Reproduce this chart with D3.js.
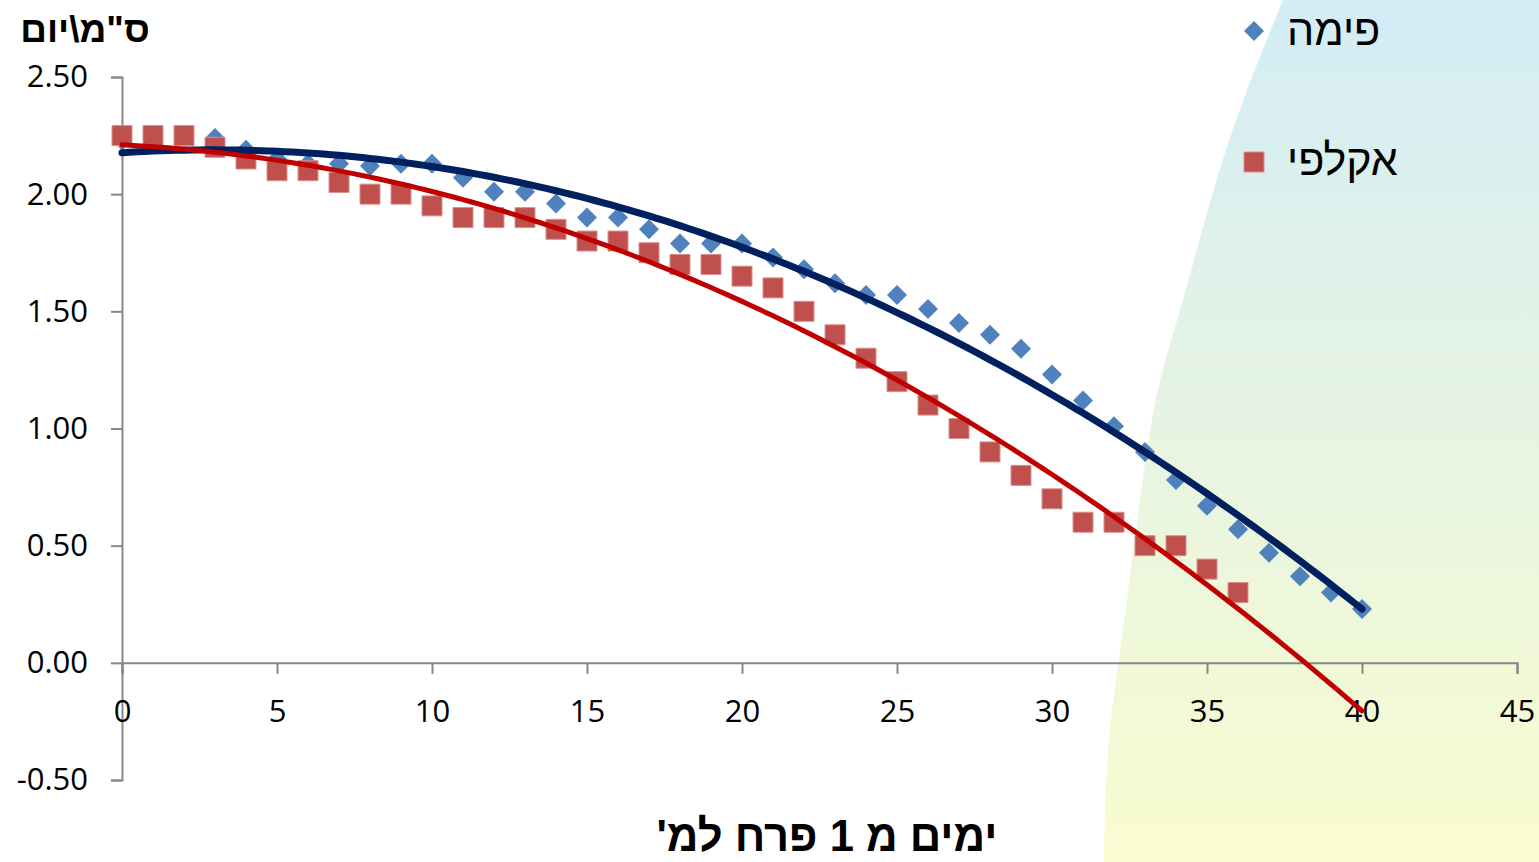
<!DOCTYPE html>
<html><head><meta charset="utf-8">
<script src="https://cdn.jsdelivr.net/npm/d3@7"></script>
<style>html,body{margin:0;padding:0;background:#fff;overflow:hidden}</style>
</head><body>
<svg id="chart" width="1539" height="862"></svg>
<script>
// ---- data ----
const pimaDays = [0,1,2,3,4,5,6,7,8,9,10,11,12,13,14,15,16,17,18,19,20,21,22,23,24,25,26,27,28,29,30,31,32,33,34,35,36,37,38,39,40];
const pimaValues = [2.23,2.25,2.25,2.24,2.19,2.15,2.13,2.13,2.12,2.13,2.13,2.07,2.01,2.01,1.96,1.90,1.90,1.85,1.79,1.79,1.79,1.73,1.68,1.62,1.57,1.57,1.51,1.45,1.40,1.34,1.23,1.12,1.01,0.90,0.78,0.67,0.57,0.47,0.37,0.30,0.23];
const acalpiDays = [0,1,2,3,4,5,6,7,8,9,10,11,12,13,14,15,16,17,18,19,20,21,22,23,24,25,26,27,28,29,30,31,32,33,34,35,36];
const acalpiValues = [2.25,2.25,2.25,2.20,2.15,2.10,2.10,2.05,2.00,2.00,1.95,1.90,1.90,1.90,1.85,1.80,1.80,1.75,1.70,1.70,1.65,1.60,1.50,1.40,1.30,1.20,1.10,1.00,0.90,0.80,0.70,0.60,0.60,0.50,0.50,0.40,0.30];
const seriesNames = ["פימה","אקלפי"];
const trendRange = [0, 40];
const xTicks = [0,5,10,15,20,25,30,35,40,45];
const xTickLabels = ["0","5","10","15","20","25","30","35","40","45"];
const yTicks = [-0.5,0,0.5,1,1.5,2,2.5];
const yTickLabels = ["-0.50","0.00","0.50","1.00","1.50","2.00","2.50"];
const yTitle = "ס\"מ\\יום";
const xTitle = "ימים מ 1 פרח למ'";

// ---- helpers ----
function polyFit2(xs, ys){
  // least squares y = a + b x + c x^2
  let S=[0,0,0,0,0], T=[0,0,0];
  xs.forEach((x,i)=>{ for(let k=0;k<5;k++) S[k]+=Math.pow(x,k); for(let k=0;k<3;k++) T[k]+=ys[i]*Math.pow(x,k); });
  const M=[[S[0],S[1],S[2],T[0]],[S[1],S[2],S[3],T[1]],[S[2],S[3],S[4],T[2]]];
  for(let i=0;i<3;i++){
    let p=i; for(let r=i+1;r<3;r++) if(Math.abs(M[r][i])>Math.abs(M[p][i])) p=r;
    [M[i],M[p]]=[M[p],M[i]];
    for(let r=0;r<3;r++){ if(r===i) continue; const f=M[r][i]/M[i][i]; for(let c=i;c<4;c++) M[r][c]-=f*M[i][c]; }
  }
  return [M[0][3]/M[0][0], M[1][3]/M[1][1], M[2][3]/M[2][2]];
}

const svg = d3.select("#chart");
const W = 1539, H = 862;
const x = d3.scaleLinear().domain([0,45]).range([122,1517]);
const y = d3.scaleLinear().domain([-0.5,2.5]).range([780,77]);

// ---- background swoosh ----
const defs = svg.append("defs");
const grad = defs.append("linearGradient").attr("id","bg").attr("x1",0).attr("y1",0).attr("x2",0).attr("y2",1);
grad.append("stop").attr("offset","0%").attr("stop-color","#d3ecf6");
grad.append("stop").attr("offset","50%").attr("stop-color","#e6f4e2");
grad.append("stop").attr("offset","100%").attr("stop-color","#fafcd0");
const edge = [[1283,0],[1226,150],[1183,300],[1152,420],[1127,600],[1109,740],[1104,862]];
const edgePath = d3.line().curve(d3.curveNatural)(edge);
svg.append("path").attr("d", edgePath + `L${W},${H}L${W},0Z`).attr("fill","url(#bg)");

// ---- axes ----
const axisColor = "#878787";
const gy = svg.append("g").attr("transform",`translate(${x(0)},0)`)
  .call(d3.axisLeft(y).tickValues(yTicks).tickFormat((d,i)=>yTickLabels[i]).tickSize(11).tickSizeOuter(11).tickPadding(23));
const gx = svg.append("g").attr("transform",`translate(0,${y(0)})`)
  .call(d3.axisBottom(x).tickValues(xTicks).tickFormat((d,i)=>xTickLabels[i]).tickSize(11).tickSizeOuter(11).tickPadding(26));
[gx,gy].forEach(g=>{
  g.select(".domain").attr("stroke",axisColor).attr("stroke-width",2);
  g.selectAll(".tick line").attr("stroke",axisColor).attr("stroke-width",2);
  g.selectAll(".tick text").attr("fill","#000").style("font-family","'Open Sans', 'Liberation Sans', sans-serif").style("font-size","31px");
});

// ---- markers ----
const diamond = d3.symbol().type(d3.symbolSquare).size(200);
const square = d3.symbol().type(d3.symbolSquare).size(400);
svg.append("g").selectAll("path").data(pimaDays.map((d,i)=>[d,pimaValues[i]])).join("path")
  .attr("d", diamond).attr("transform", d=>`translate(${x(d[0])},${y(d[1])}) rotate(45)`)
  .attr("fill","#4f81bd");
svg.append("g").selectAll("path").data(acalpiDays.map((d,i)=>[d,acalpiValues[i]])).join("path")
  .attr("d", square).attr("transform", d=>`translate(${x(d[0])},${y(d[1])})`)
  .attr("fill","#c0504d").attr("stroke","#d8908e").attr("stroke-width",1);

// ---- trendlines (2nd order polynomial fits) ----
function trend(xs, ys){
  const [a,b,c] = polyFit2(xs, ys);
  const pts = [];
  for(let t=trendRange[0]; t<=trendRange[1]+1e-9; t+=0.25) pts.push([t, a+b*t+c*t*t]);
  return pts;
}
const line = d3.line().x(d=>x(d[0])).y(d=>y(d[1]));
svg.append("path").attr("d", line(trend(pimaDays,pimaValues))).attr("fill","none")
  .attr("stroke","#002060").attr("stroke-width",7).attr("stroke-linecap","round");
svg.append("path").attr("d", line(trend(acalpiDays,acalpiValues))).attr("fill","none")
  .attr("stroke","#c00000").attr("stroke-width",5).attr("stroke-linecap","round");

// ---- legend ----
const lg = svg.append("g");
lg.append("path").attr("d", diamond).attr("transform","translate(1254,31) rotate(45)").attr("fill","#4f81bd");
lg.append("path").attr("d", square).attr("transform","translate(1254,162)").attr("fill","#c0504d").attr("stroke","#d8908e").attr("stroke-width",1);
[[seriesNames[0],45],[seriesNames[1],175]].forEach(([t,by])=>{
  lg.append("text").attr("x",1287).attr("y",by).attr("direction","rtl").attr("text-anchor","end")
    .style("font-family","'Liberation Sans', Arial, sans-serif").style("font-size","43px").attr("fill","#000").text(t);
});

// ---- titles ----
svg.append("text").attr("x",85).attr("y",42).attr("direction","rtl").attr("text-anchor","middle")
  .style("font-family","'Liberation Sans', Arial, sans-serif").style("font-size","37px").style("font-weight","bold").text(yTitle);
svg.append("text").attr("x",827).attr("y",851).attr("direction","rtl").attr("text-anchor","middle")
  .attr("textLength",341).attr("lengthAdjust","spacingAndGlyphs")
  .style("font-family","'Liberation Sans', Arial, sans-serif").style("font-size","44px").style("font-weight","bold").text(xTitle);
</script>
</body></html>
